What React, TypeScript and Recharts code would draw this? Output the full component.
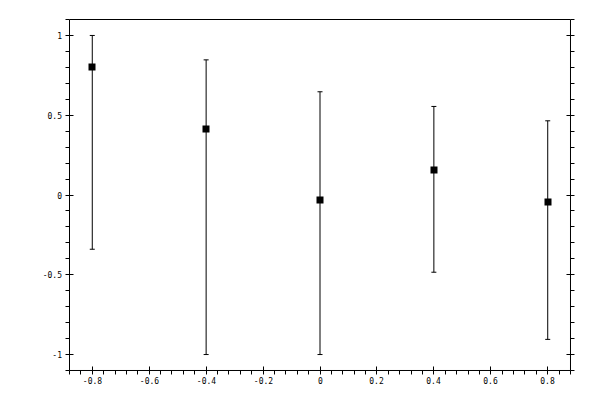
import React from "react";
import { ScatterChart, Scatter, XAxis, YAxis, ErrorBar } from "recharts";

// measured points with asymmetric error bounds
const xValues = [-0.8, -0.4, 0, 0.4, 0.8];
const yValues = [0.8, 0.415, -0.03, 0.157, -0.045];
const yLower = [-0.34, -1.0, -1.0, -0.484, -0.905];
const yUpper = [1.0, 0.847, 0.647, 0.555, 0.465];

// axis ticks
const xMajor = [-0.8, -0.6, -0.4, -0.2, 0, 0.2, 0.4, 0.6, 0.8];
const xMinor = [
  -0.88, -0.84, -0.76, -0.72, -0.68, -0.64, -0.56, -0.52, -0.48, -0.44, -0.36, -0.32,
  -0.28, -0.24, -0.16, -0.12, -0.08, -0.04, 0.04, 0.08, 0.12, 0.16, 0.24, 0.28, 0.32,
  0.36, 0.44, 0.48, 0.52, 0.56, 0.64, 0.68, 0.72, 0.76, 0.84, 0.88,
];
const yMajor = [-1, -0.5, 0, 0.5, 1];
const yMinor = [
  -1.1, -0.9, -0.8, -0.7, -0.6, -0.4, -0.3, -0.2, -0.1, 0.1, 0.2, 0.3, 0.4, 0.6, 0.7,
  0.8, 0.9, 1.1,
];

const X_DOMAIN: [number, number] = [-0.88, 0.88];
const Y_DOMAIN: [number, number] = [-1.1, 1.1];

const data = xValues.map((x, i) => ({
  x,
  y: yValues[i],
  err: [yValues[i] - yLower[i], yUpper[i] - yValues[i]],
}));

const xTicks = [...xMajor, ...xMinor].sort((a, b) => a - b);
const yTicks = [...yMajor, ...yMinor].sort((a, b) => a - b);

const isMajor = (list: number[], v: number) => list.some((m) => Math.abs(m - v) < 1e-9);
// snap to pixel centre so the 1px tick lines stay crisp
const px = (v: number) => Math.floor(v) + 0.5;

const FONT = "'DejaVu Sans Mono', monospace";
const OUT = 4;
const IN = 4;

const BottomTick = ({ x, y, payload }: any) => {
  const major = isMajor(xMajor, payload.value);
  const sx = px(x);
  return (
    <g>
      <line x1={sx} x2={sx} y1={major ? y - IN : y} y2={y + OUT} stroke="#000" />
      {major && (
        <text x={sx} y={y + 14} textAnchor="middle" fontSize={8} fontFamily={FONT} fill="#000">
          {String(payload.value)}
        </text>
      )}
    </g>
  );
};

const TopTick = ({ x, y, payload }: any) => {
  const major = isMajor(xMajor, payload.value);
  const sx = px(x);
  return <line x1={sx} x2={sx} y1={y - OUT} y2={major ? y + IN : y} stroke="#000" />;
};

const LeftTick = ({ x, y, payload }: any) => {
  const major = isMajor(yMajor, payload.value);
  const sy = px(y);
  return (
    <g>
      <line x1={x - OUT} x2={major ? x + IN : x} y1={sy} y2={sy} stroke="#000" />
      {major && (
        <text x={x - 7.5} y={sy + 3} textAnchor="end" fontSize={8} fontFamily={FONT} fill="#000">
          {String(payload.value)}
        </text>
      )}
    </g>
  );
};

const RightTick = ({ x, y, payload }: any) => {
  const major = isMajor(yMajor, payload.value);
  const sy = px(y);
  return <line x1={major ? x - IN : x} x2={x + OUT} y1={sy} y2={sy} stroke="#000" />;
};

const Square = ({ cx, cy }: any) => (
  <rect x={Math.round(cx) - 3.5} y={Math.round(cy) - 3.5} width={7} height={7} fill="#000" />
);

export default function App() {
  const tiny = 0.001;
  return (
    <div style={{ position: "absolute", left: 0, top: 0, width: 600, height: 400, background: "#fff" }}>
      <ScatterChart width={600} height={400} margin={{ top: 19.5, right: 29.5, bottom: 29.5, left: 69.5 }}>
        <XAxis
          xAxisId="b"
          dataKey="x"
          type="number"
          orientation="bottom"
          domain={X_DOMAIN}
          allowDataOverflow
          ticks={xTicks}
          interval={0}
          height={tiny}
          tickSize={0}
          tickMargin={0}
          tickLine={false}
          axisLine={{ stroke: "#000" }}
          tick={(p: any) => <BottomTick {...p} />}
        />
        <XAxis
          xAxisId="t"
          type="number"
          orientation="top"
          domain={X_DOMAIN}
          allowDataOverflow
          ticks={xTicks}
          interval={0}
          height={tiny}
          tickSize={0}
          tickMargin={0}
          tickLine={false}
          axisLine={{ stroke: "#000" }}
          tick={(p: any) => <TopTick {...p} />}
        />
        <YAxis
          yAxisId="l"
          dataKey="y"
          type="number"
          orientation="left"
          domain={Y_DOMAIN}
          allowDataOverflow
          ticks={yTicks}
          interval={0}
          width={tiny}
          tickSize={0}
          tickMargin={0}
          tickLine={false}
          axisLine={{ stroke: "#000" }}
          tick={(p: any) => <LeftTick {...p} />}
        />
        <YAxis
          yAxisId="r"
          type="number"
          orientation="right"
          domain={Y_DOMAIN}
          allowDataOverflow
          ticks={yTicks}
          interval={0}
          width={tiny}
          tickSize={0}
          tickMargin={0}
          tickLine={false}
          axisLine={{ stroke: "#000" }}
          tick={(p: any) => <RightTick {...p} />}
        />
        <Scatter
          xAxisId="b"
          yAxisId="l"
          data={data}
          dataKey="y"
          shape={(p: any) => <Square {...p} />}
          isAnimationActive={false}
        >
          <ErrorBar
            dataKey="err"
            direction="y"
            width={2.5}
            stroke="#000"
            strokeWidth={1}
            isAnimationActive={false}
          />
        </Scatter>
      </ScatterChart>
    </div>
  );
}
